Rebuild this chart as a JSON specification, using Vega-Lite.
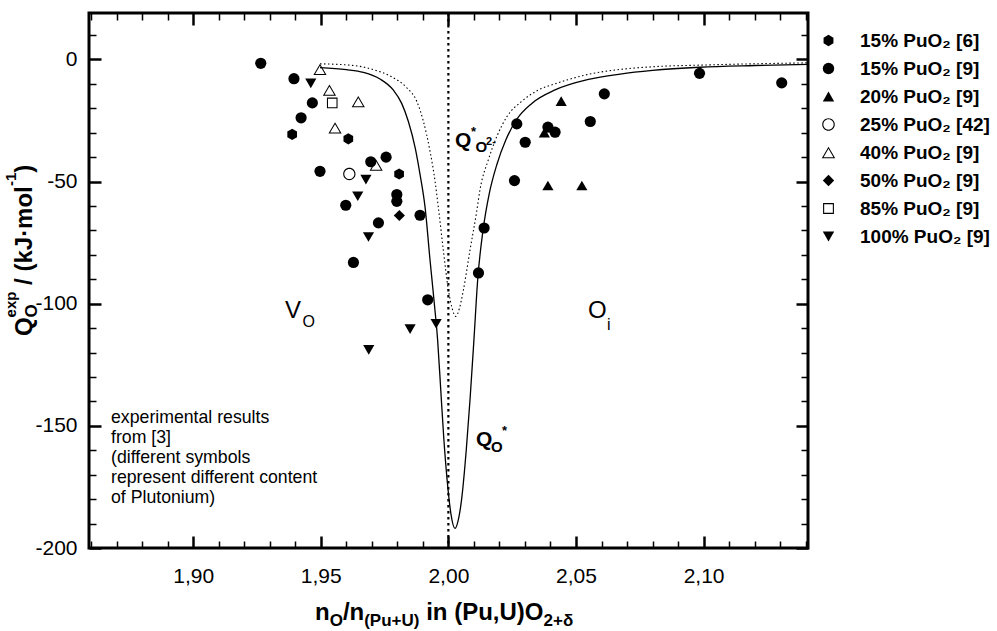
{
  "$schema": "https://vega.github.io/schema/vega-lite/v6.json",
  "width": 719,
  "height": 535,
  "autosize": {"type": "none"},
  "padding": {"left": 89, "top": 13, "right": 189, "bottom": 83},
  "background": "white",
  "config": {
    "view": {"stroke": "black", "strokeWidth": 3},
    "font": "Liberation Sans",
    "text": {"font": "Liberation Sans", "color": "black"}
  },
  "data": {"values": [{}]},
  "datasets": {
    "points": [
      {"x": 1.9388, "y": -30.7, "series": "15% PuO₂ [6]"},
      {"x": 1.9608, "y": -32.5, "series": "15% PuO₂ [6]"},
      {"x": 1.9807, "y": -46.9, "series": "15% PuO₂ [6]"},
      {"x": 1.9265, "y": -1.6, "series": "15% PuO₂ [9]"},
      {"x": 1.9395, "y": -7.9, "series": "15% PuO₂ [9]"},
      {"x": 1.9467, "y": -17.8, "series": "15% PuO₂ [9]"},
      {"x": 1.9423, "y": -23.9, "series": "15% PuO₂ [9]"},
      {"x": 1.9756, "y": -40.0, "series": "15% PuO₂ [9]"},
      {"x": 1.9696, "y": -41.9, "series": "15% PuO₂ [9]"},
      {"x": 1.9497, "y": -45.8, "series": "15% PuO₂ [9]"},
      {"x": 1.9798, "y": -55.3, "series": "15% PuO₂ [9]"},
      {"x": 1.9798, "y": -58.1, "series": "15% PuO₂ [9]"},
      {"x": 1.9598, "y": -59.7, "series": "15% PuO₂ [9]"},
      {"x": 1.9889, "y": -63.8, "series": "15% PuO₂ [9]"},
      {"x": 1.9726, "y": -66.9, "series": "15% PuO₂ [9]"},
      {"x": 1.9628, "y": -83.1, "series": "15% PuO₂ [9]"},
      {"x": 1.9919, "y": -98.4, "series": "15% PuO₂ [9]"},
      {"x": 2.0140, "y": -69.0, "series": "15% PuO₂ [9]"},
      {"x": 2.0118, "y": -87.4, "series": "15% PuO₂ [9]"},
      {"x": 2.0984, "y": -5.7, "series": "15% PuO₂ [9]"},
      {"x": 2.1306, "y": -9.6, "series": "15% PuO₂ [9]"},
      {"x": 2.0611, "y": -14.1, "series": "15% PuO₂ [9]"},
      {"x": 2.0268, "y": -26.4, "series": "15% PuO₂ [9]"},
      {"x": 2.0556, "y": -25.4, "series": "15% PuO₂ [9]"},
      {"x": 2.0390, "y": -27.7, "series": "15% PuO₂ [9]"},
      {"x": 2.0418, "y": -29.8, "series": "15% PuO₂ [9]"},
      {"x": 2.0301, "y": -33.9, "series": "15% PuO₂ [9]"},
      {"x": 2.0259, "y": -49.6, "series": "15% PuO₂ [9]"},
      {"x": 2.0442, "y": -17.1, "series": "20% PuO₂ [9]"},
      {"x": 2.0376, "y": -30.0, "series": "20% PuO₂ [9]"},
      {"x": 2.0390, "y": -51.6, "series": "20% PuO₂ [9]"},
      {"x": 2.0523, "y": -51.6, "series": "20% PuO₂ [9]"},
      {"x": 1.9612, "y": -46.9, "series": "25% PuO₂ [42]"},
      {"x": 1.9497, "y": -4.1, "series": "40% PuO₂ [9]"},
      {"x": 1.9534, "y": -12.6, "series": "40% PuO₂ [9]"},
      {"x": 1.9647, "y": -17.3, "series": "40% PuO₂ [9]"},
      {"x": 1.9556, "y": -28.0, "series": "40% PuO₂ [9]"},
      {"x": 1.9717, "y": -43.3, "series": "40% PuO₂ [9]"},
      {"x": 1.9808, "y": -63.9, "series": "50% PuO₂ [9]"},
      {"x": 1.9545, "y": -17.8, "series": "85% PuO₂ [9]"},
      {"x": 1.9461, "y": -9.8, "series": "100% PuO₂ [9]"},
      {"x": 1.9677, "y": -49.2, "series": "100% PuO₂ [9]"},
      {"x": 1.9645, "y": -56.0, "series": "100% PuO₂ [9]"},
      {"x": 1.9687, "y": -72.7, "series": "100% PuO₂ [9]"},
      {"x": 1.9850, "y": -110.4, "series": "100% PuO₂ [9]"},
      {"x": 1.9952, "y": -108.2, "series": "100% PuO₂ [9]"},
      {"x": 1.9688, "y": -118.9, "series": "100% PuO₂ [9]"}
    ],
    "solid": [
      {"x": 1.9497, "y": -3.4},
      {"x": 1.9600, "y": -4.2},
      {"x": 1.9667, "y": -5.3},
      {"x": 1.9732, "y": -8.0},
      {"x": 1.9784, "y": -12.5},
      {"x": 1.9817, "y": -18.0},
      {"x": 1.9843, "y": -25.3},
      {"x": 1.9870, "y": -36.2},
      {"x": 1.9889, "y": -47.1},
      {"x": 1.9909, "y": -60.8},
      {"x": 1.9928, "y": -82.0},
      {"x": 1.9945, "y": -100.0},
      {"x": 1.9958, "y": -115.0},
      {"x": 1.9970, "y": -135.0},
      {"x": 1.9982, "y": -155.0},
      {"x": 1.9995, "y": -172.0},
      {"x": 2.0010, "y": -186.0},
      {"x": 2.0026, "y": -192.0},
      {"x": 2.0040, "y": -188.0},
      {"x": 2.0052, "y": -180.0},
      {"x": 2.0070, "y": -160.0},
      {"x": 2.0085, "y": -139.0},
      {"x": 2.0100, "y": -115.0},
      {"x": 2.0115, "y": -90.0},
      {"x": 2.0137, "y": -69.0},
      {"x": 2.0160, "y": -55.0},
      {"x": 2.0190, "y": -43.0},
      {"x": 2.0225, "y": -33.0},
      {"x": 2.0268, "y": -24.5},
      {"x": 2.0327, "y": -18.0},
      {"x": 2.0418, "y": -12.5},
      {"x": 2.0549, "y": -8.2},
      {"x": 2.0673, "y": -6.0},
      {"x": 2.0800, "y": -4.5},
      {"x": 2.0986, "y": -3.2},
      {"x": 2.1200, "y": -2.5},
      {"x": 2.1409, "y": -2.0}
    ],
    "dotted": [
      {"x": 1.9497, "y": -1.8},
      {"x": 1.9630, "y": -2.5},
      {"x": 1.9700, "y": -4.0},
      {"x": 1.9772, "y": -6.8},
      {"x": 1.9837, "y": -11.6},
      {"x": 1.9876, "y": -17.1},
      {"x": 1.9902, "y": -25.3},
      {"x": 1.9928, "y": -37.5},
      {"x": 1.9948, "y": -50.0},
      {"x": 1.9961, "y": -60.8},
      {"x": 1.9980, "y": -77.9},
      {"x": 2.0000, "y": -94.3},
      {"x": 2.0015, "y": -102.0},
      {"x": 2.0029, "y": -105.2},
      {"x": 2.0043, "y": -102.0},
      {"x": 2.0059, "y": -94.3},
      {"x": 2.0085, "y": -77.9},
      {"x": 2.0111, "y": -62.2},
      {"x": 2.0124, "y": -53.3},
      {"x": 2.0157, "y": -41.0},
      {"x": 2.0190, "y": -31.5},
      {"x": 2.0229, "y": -23.5},
      {"x": 2.0288, "y": -17.1},
      {"x": 2.0353, "y": -12.5},
      {"x": 2.0418, "y": -10.0},
      {"x": 2.0549, "y": -6.1},
      {"x": 2.0673, "y": -4.1},
      {"x": 2.0800, "y": -3.0},
      {"x": 2.1000, "y": -2.3},
      {"x": 2.1409, "y": -1.4}
    ]
  },
  "layer": [
    {
      "mark": {"type": "rule", "color": "black", "strokeWidth": 2.2, "strokeDash": [2.5, 3.5]},
      "encoding": {"x": {"datum": 2.0, "type": "quantitative", "scale": {"domain": [1.8592, 2.1409], "nice": false, "zero": false}, "axis": null}}
    },
    {
      "data": {"name": "solid"},
      "mark": {"type": "line", "color": "black", "strokeWidth": 1.3, "interpolate": "monotone"},
      "encoding": {
        "x": {"field": "x", "type": "quantitative", "scale": {"domain": [1.8592, 2.1409], "nice": false, "zero": false},
              "axis": {"orient": "bottom", "values": [1.86,1.87,1.88,1.89,1.91,1.92,1.93,1.94,1.96,1.97,1.98,1.99,2.01,2.02,2.03,2.04,2.06,2.07,2.08,2.09,2.11,2.12,2.13,2.14], "tickSize": -7, "tickWidth": 1.5, "tickColor": "black", "labels": false, "domain": false, "grid": false, "title": null}},
        "y": {"field": "y", "type": "quantitative", "scale": {"domain": [-200, 19], "nice": false, "zero": false},
              "axis": {"orient": "left", "values": [10,-10,-20,-30,-40,-60,-70,-80,-90,-110,-120,-130,-140,-160,-170,-180,-190], "tickSize": -7, "tickWidth": 1.5, "tickColor": "black", "labels": false, "domain": false, "grid": false, "title": null}}
      }
    },
    {
      "data": {"name": "dotted"},
      "mark": {"type": "line", "color": "black", "strokeWidth": 1.1, "strokeDash": [1.5, 2.5], "interpolate": "monotone"},
      "encoding": {
        "x": {"field": "x", "type": "quantitative", "scale": {"domain": [1.8592, 2.1409], "nice": false, "zero": false},
              "axis": {"orient": "top", "values": [1.9, 1.95, 2.0, 2.05, 2.1], "tickSize": -12, "tickWidth": 2.5, "tickColor": "black", "labels": false, "domain": false, "grid": false, "title": null}},
        "y": {"field": "y", "type": "quantitative", "scale": {"domain": [-200, 19], "nice": false, "zero": false},
              "axis": {"orient": "right", "values": [0, -50, -100, -150, -200], "tickSize": -12, "tickWidth": 2.5, "tickColor": "black", "labels": false, "domain": false, "grid": false, "title": null}}
      }
    },
    {
      "data": {"name": "points"},
      "mark": {"type": "point", "filled": true, "color": "black", "strokeWidth": 0, "size": 125, "opacity": 1},
      "encoding": {
        "x": {"field": "x", "type": "quantitative", "scale": {"domain": [1.8592, 2.1409], "nice": false, "zero": false},
              "axis": {"orient": "bottom", "values": [1.9, 1.95, 2.0, 2.05, 2.1], "tickSize": -12, "tickWidth": 2.5, "tickColor": "black", "labelPadding": 29, "labelFont": "Liberation Sans", "labelFontSize": 21, "labelColor": "black", "labelFlush": false, "labelOverlap": false, "labelExpr": "replace(format(datum.value, '.2f'), '.', ',')", "domain": false, "grid": false, "title": null}},
        "y": {"field": "y", "type": "quantitative", "scale": {"domain": [-200, 19], "nice": false, "zero": false},
              "axis": {"orient": "left", "values": [0, -50, -100, -150, -200], "tickSize": -12, "tickWidth": 2.5, "tickColor": "black", "labelPadding": 24, "labelFont": "Liberation Sans", "labelFontSize": 21, "labelColor": "black", "labelFlush": false, "labelOverlap": false, "labelExpr": "'' + datum.value", "domain": false, "grid": false, "title": null}},
        "shape": {"field": "series", "type": "nominal",
                  "scale": {"domain": ["15% PuO₂ [6]", "15% PuO₂ [9]", "20% PuO₂ [9]", "25% PuO₂ [42]", "40% PuO₂ [9]", "50% PuO₂ [9]", "85% PuO₂ [9]", "100% PuO₂ [9]"],
                            "range": [
                              "M0,-1L0.866,-0.5L0.866,0.5L0,1L-0.866,0.5L-0.866,-0.5Z",
                              "circle",
                              "triangle-up",
                              "M1.1,0A1.1,1.1 0 1,1 -1.1,0A1.1,1.1 0 1,1 1.1,0ZM0.9,0A0.9,0.9 0 1,0 -0.9,0A0.9,0.9 0 1,0 0.9,0Z",
                              "M0,-1L1.18,1L-1.18,1ZM0,-0.646L-0.865,0.82L0.865,0.82Z",
                              "diamond",
                              "M-0.95,-0.95L0.95,-0.95L0.95,0.95L-0.95,0.95ZM-0.76,-0.76L-0.76,0.76L0.76,0.76L0.76,-0.76Z",
                              "triangle-down"]},
                  "legend": {"title": null, "orient": "none", "legendX": 730, "legendY": 18, "padding": 0, "labelFont": "Liberation Sans", "labelFontSize": 19, "labelFontWeight": "bold", "labelColor": "black", "labelOffset": 22, "labelLimit": 300, "symbolSize": 130, "symbolFillColor": "black", "symbolStrokeWidth": 0, "rowPadding": 8}}
      }
    },
    {
      "mark": {"type": "text", "text": "V", "fontSize": 24, "align": "left", "baseline": "alphabetic"},
      "encoding": {
        "x": {"datum": 1.93601, "type": "quantitative", "scale": {"domain": [1.8592, 2.1409], "nice": false, "zero": false},
              "axis": {"orient": "top", "values": [1.86,1.87,1.88,1.89,1.91,1.92,1.93,1.94,1.96,1.97,1.98,1.99,2.01,2.02,2.03,2.04,2.06,2.07,2.08,2.09,2.11,2.12,2.13,2.14], "tickSize": -7, "tickWidth": 1.5, "tickColor": "black", "labels": false, "domain": false, "grid": false, "title": null}},
        "y": {"datum": -106.0, "type": "quantitative", "scale": {"domain": [-200, 19], "nice": false, "zero": false},
              "axis": {"orient": "right", "values": [10,-10,-20,-30,-40,-60,-70,-80,-90,-110,-120,-130,-140,-160,-170,-180,-190], "tickSize": -7, "tickWidth": 1.5, "tickColor": "black", "labels": false, "domain": false, "grid": false, "title": null}}
      }
    },
    {"mark": {"type": "text", "text": "O", "fontSize": 16, "align": "left", "baseline": "alphabetic"},
     "encoding": {"x": {"datum": 1.94287, "type": "quantitative", "axis": null}, "y": {"datum": -109.5, "type": "quantitative", "axis": null}}},
    {"mark": {"type": "text", "text": "O", "fontSize": 24, "align": "left", "baseline": "alphabetic"},
     "encoding": {"x": {"datum": 2.05474, "type": "quantitative", "axis": null}, "y": {"datum": -106.0, "type": "quantitative", "axis": null}}},
    {"mark": {"type": "text", "text": "i", "fontSize": 16, "align": "left", "baseline": "alphabetic"},
     "encoding": {"x": {"datum": 2.06219, "type": "quantitative", "axis": null}, "y": {"datum": -110.6, "type": "quantitative", "axis": null}}},
    {"mark": {"type": "text", "text": "Q", "fontSize": 21, "fontWeight": "bold", "align": "left", "baseline": "alphabetic"},
     "encoding": {"x": {"datum": 2.00263, "type": "quantitative", "axis": null}, "y": {"datum": -35.7, "type": "quantitative", "axis": null}}},
    {"mark": {"type": "text", "text": "*", "fontSize": 13, "fontWeight": "bold", "align": "left", "baseline": "top"},
     "encoding": {"x": {"datum": 2.0089, "type": "quantitative", "axis": null}, "y": {"datum": -27.3, "type": "quantitative", "axis": null}}},
    {"mark": {"type": "text", "text": "O", "fontSize": 15, "fontWeight": "bold", "align": "left", "baseline": "alphabetic"},
     "encoding": {"x": {"datum": 2.01066, "type": "quantitative", "axis": null}, "y": {"datum": -37.9, "type": "quantitative", "axis": null}}},
    {"mark": {"type": "text", "text": "2-", "fontSize": 11, "fontWeight": "bold", "align": "left", "baseline": "alphabetic"},
     "encoding": {"x": {"datum": 2.01477, "type": "quantitative", "axis": null}, "y": {"datum": -35.0, "type": "quantitative", "axis": null}}},
    {"mark": {"type": "text", "text": "Q", "fontSize": 21, "fontWeight": "bold", "align": "left", "baseline": "alphabetic"},
     "encoding": {"x": {"datum": 2.01085, "type": "quantitative", "axis": null}, "y": {"datum": -158.1, "type": "quantitative", "axis": null}}},
    {"mark": {"type": "text", "text": "O", "fontSize": 15, "fontWeight": "bold", "align": "left", "baseline": "alphabetic"},
     "encoding": {"x": {"datum": 2.01673, "type": "quantitative", "axis": null}, "y": {"datum": -160.6, "type": "quantitative", "axis": null}}},
    {"mark": {"type": "text", "text": "*", "fontSize": 13, "fontWeight": "bold", "align": "left", "baseline": "top"},
     "encoding": {"x": {"datum": 2.02104, "type": "quantitative", "axis": null}, "y": {"datum": -149.7, "type": "quantitative", "axis": null}}},
    {"mark": {"type": "text", "text": ["experimental results", "from [3]", "(different symbols", "represent different content", "of Plutonium)"], "fontSize": 17.7, "lineHeight": 20, "align": "left", "baseline": "alphabetic"},
     "encoding": {"x": {"datum": 1.86783, "type": "quantitative", "axis": null}, "y": {"datum": -149.0, "type": "quantitative", "axis": null}}},
    {"mark": {"type": "text", "text": "Q", "fontSize": 24, "fontWeight": "bold", "angle": 270, "align": "left", "baseline": "alphabetic"},
     "encoding": {"x": {"datum": 1.83687, "type": "quantitative", "axis": null}, "y": {"datum": -113.2, "type": "quantitative", "axis": null}}},
    {"mark": {"type": "text", "text": "O", "fontSize": 17, "fontWeight": "bold", "angle": 270, "align": "left", "baseline": "alphabetic"},
     "encoding": {"x": {"datum": 1.83902, "type": "quantitative", "axis": null}, "y": {"datum": -105.6, "type": "quantitative", "axis": null}}},
    {"mark": {"type": "text", "text": "exp", "fontSize": 15, "fontWeight": "bold", "angle": 270, "align": "left", "baseline": "alphabetic"},
     "encoding": {"x": {"datum": 1.8306, "type": "quantitative", "axis": null}, "y": {"datum": -105.6, "type": "quantitative", "axis": null}}},
    {"mark": {"type": "text", "text": "/ (kJ·mol", "fontSize": 24, "fontWeight": "bold", "angle": 270, "align": "left", "baseline": "alphabetic"},
     "encoding": {"x": {"datum": 1.83687, "type": "quantitative", "axis": null}, "y": {"datum": -92.3, "type": "quantitative", "axis": null}}},
    {"mark": {"type": "text", "text": "-1", "fontSize": 15, "fontWeight": "bold", "angle": 270, "align": "left", "baseline": "alphabetic"},
     "encoding": {"x": {"datum": 1.8306, "type": "quantitative", "axis": null}, "y": {"datum": -51.8, "type": "quantitative", "axis": null}}},
    {"mark": {"type": "text", "text": ")", "fontSize": 24, "fontWeight": "bold", "angle": 270, "align": "left", "baseline": "alphabetic"},
     "encoding": {"x": {"datum": 1.83687, "type": "quantitative", "axis": null}, "y": {"datum": -46.4, "type": "quantitative", "axis": null}}},
    {"mark": {"type": "text", "text": "n", "fontSize": 24, "fontWeight": "bold", "align": "left", "baseline": "alphabetic"},
     "encoding": {"x": {"datum": 1.94774, "type": "quantitative", "axis": null}, "y": {"datum": -229.5, "type": "quantitative", "axis": null}}},
    {"mark": {"type": "text", "text": "O", "fontSize": 17, "fontWeight": "bold", "align": "left", "baseline": "alphabetic"},
     "encoding": {"x": {"datum": 1.9535, "type": "quantitative", "axis": null}, "y": {"datum": -231.9, "type": "quantitative", "axis": null}}},
    {"mark": {"type": "text", "text": "/n", "fontSize": 24, "fontWeight": "bold", "align": "left", "baseline": "alphabetic"},
     "encoding": {"x": {"datum": 1.95867, "type": "quantitative", "axis": null}, "y": {"datum": -229.5, "type": "quantitative", "axis": null}}},
    {"mark": {"type": "text", "text": "(Pu+U)", "fontSize": 17, "fontWeight": "bold", "align": "left", "baseline": "alphabetic"},
     "encoding": {"x": {"datum": 1.96702, "type": "quantitative", "axis": null}, "y": {"datum": -231.9, "type": "quantitative", "axis": null}}},
    {"mark": {"type": "text", "text": "in (Pu,U)O", "fontSize": 24, "fontWeight": "bold", "align": "left", "baseline": "alphabetic"},
     "encoding": {"x": {"datum": 1.99131, "type": "quantitative", "axis": null}, "y": {"datum": -229.5, "type": "quantitative", "axis": null}}},
    {"mark": {"type": "text", "text": "2+δ", "fontSize": 17, "fontWeight": "bold", "align": "left", "baseline": "alphabetic"},
     "encoding": {"x": {"datum": 2.03727, "type": "quantitative", "axis": null}, "y": {"datum": -231.9, "type": "quantitative", "axis": null}}}
  ],
  "resolve": {"axis": {"x": "independent", "y": "independent"}}
}
